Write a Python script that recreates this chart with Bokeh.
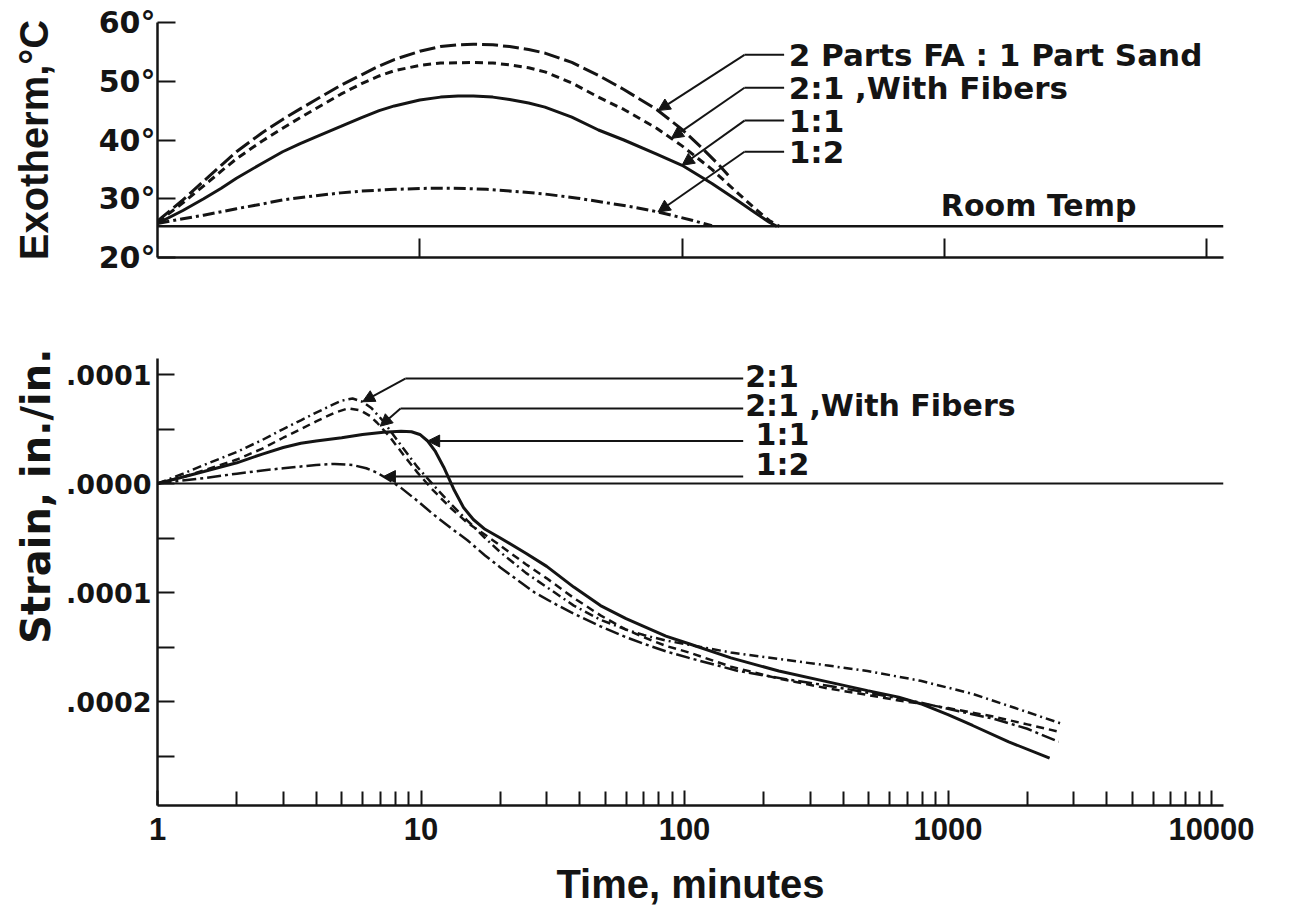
import numpy as np
from bokeh.plotting import figure
from bokeh.layouts import column
from bokeh.models import FixedTicker, Label, Arrow, NormalHead, Range1d, Span, Title
from bokeh.embed import file_html
from bokeh.resources import INLINE

# ---------------- Exotherm (deg C) versus time (minutes) ----------------
t_sand21 = [1, 1.25, 1.5, 1.75, 2, 2.5, 3, 3.5, 4, 5, 6, 7, 8, 10, 12, 14, 16, 19, 22, 26, 30, 38, 48,
            60, 80, 100, 120, 140, 150]
T_sand21 = [26.2, 29.8, 33.0, 35.7, 38.0, 41.2, 43.5, 45.3, 46.8, 49.3, 51.1, 52.6, 53.7, 55.1, 55.9,
            56.2, 56.3, 56.2, 55.9, 55.4, 54.8, 53.2, 51.0, 48.6, 45.2, 41.8, 38.5, 35.5, 34.0]

t_fiber21 = [1, 1.25, 1.5, 1.75, 2, 2.5, 3, 3.5, 4, 5, 6, 7, 8, 10, 12, 16, 19, 22, 26, 30, 38, 48, 60,
             80, 100, 130, 160, 190, 215, 235]
T_fiber21 = [26.0, 29.3, 32.2, 34.7, 36.8, 39.8, 42.0, 43.8, 45.3, 47.8, 49.6, 50.9, 51.8, 52.7, 53.1,
             53.2, 53.1, 52.8, 52.3, 51.6, 49.7, 47.3, 45.2, 42.0, 39.0, 35.0, 31.3, 28.3, 26.3, 25.3]

t_mix11 = [1, 1.25, 1.5, 1.75, 2, 2.5, 3, 3.5, 4, 5, 6, 7, 8, 10, 12, 14, 16, 19, 22, 26, 30, 38, 48, 60,
           80, 100, 130, 160, 190, 215, 230]
T_mix11 = [25.8, 28.0, 30.0, 31.8, 33.5, 36.0, 38.0, 39.4, 40.5, 42.3, 43.8, 45.0, 45.8, 46.8, 47.3,
           47.5, 47.5, 47.3, 46.9, 46.3, 45.6, 43.9, 41.7, 40.0, 37.6, 35.7, 32.6, 29.9, 27.6, 26.0, 25.3]

t_mix12 = [1, 1.25, 1.5, 2, 2.5, 3, 4, 5, 6, 8, 10, 12, 15, 18, 24, 30, 40, 50, 65, 80, 95, 110, 130]
T_mix12 = [25.8, 26.6, 27.2, 28.3, 29.1, 29.8, 30.5, 31.0, 31.3, 31.6, 31.75, 31.8, 31.75, 31.6, 31.2,
           30.8, 30.1, 29.4, 28.6, 27.8, 27.0, 26.3, 25.4]

ROOM_TEMP = 25.3

exo_ticks = [20, 30, 40, 50, 60]
exo_tick_labels = ["20°", "30°", "40°", "50°", "60°"]

# ---------------- Strain versus time, in units of 1e-4 in./in. ----------------
STRAIN_UNIT = 1e-4

t_s21 = [1, 1.25, 1.5, 2, 2.5, 3, 3.5, 4, 4.5, 5, 5.5, 6, 6.5, 7.2, 8.4, 9.7, 11.1, 13, 15, 17.5, 20, 25,
         30, 38, 48, 60, 70, 85, 104, 150, 228, 350, 495, 787, 1240, 1800, 2670]
s_21 = [0.0, 0.09, 0.17, 0.29, 0.40, 0.50, 0.58, 0.65, 0.71, 0.76, 0.78, 0.75, 0.69, 0.57, 0.35, 0.15,
        -0.01, -0.19, -0.34, -0.50, -0.63, -0.82, -0.95, -1.12, -1.25, -1.34, -1.39, -1.44, -1.48, -1.55,
        -1.61, -1.67, -1.72, -1.81, -1.93, -2.06, -2.20]

t_sfib = [1, 1.25, 1.5, 2, 2.5, 3, 3.5, 4, 4.7, 5.3, 5.9, 6.4, 6.8, 7.6, 8.6, 9.7, 11, 12.9, 15, 17.5, 20,
          25, 30, 38, 48, 60, 70, 85, 104, 150, 228, 350, 495, 650, 787, 1000, 1500, 2000, 2670]
s_fib = [0.0, 0.06, 0.12, 0.22, 0.32, 0.42, 0.50, 0.57, 0.65, 0.69, 0.67, 0.62, 0.56, 0.43, 0.26, 0.10,
         -0.05, -0.22, -0.36, -0.47, -0.57, -0.74, -0.87, -1.05, -1.21, -1.34, -1.41, -1.49, -1.55, -1.68,
         -1.79, -1.88, -1.94, -1.99, -2.02, -2.06, -2.14, -2.21, -2.28]

t_s11 = [1, 1.25, 1.5, 2, 2.5, 3, 3.5, 4, 5, 6, 7.2, 8.4, 9.2, 9.9, 10.6, 11.3, 12.2, 13.3, 14.5, 15.8,
         17.5, 20, 25, 30, 38, 48, 60, 70, 85, 104, 150, 228, 350, 495, 650, 787, 1000, 1240, 1700, 2430]
s_11 = [0.0, 0.06, 0.11, 0.19, 0.27, 0.33, 0.37, 0.39, 0.42, 0.45, 0.47, 0.48, 0.475, 0.45, 0.39, 0.30,
        0.15, -0.05, -0.22, -0.33, -0.42, -0.50, -0.64, -0.76, -0.95, -1.12, -1.24, -1.31, -1.40, -1.47,
        -1.60, -1.72, -1.82, -1.90, -1.96, -2.02, -2.12, -2.22, -2.37, -2.52]

t_s12 = [1, 1.5, 2, 2.5, 3, 4, 4.7, 5.5, 6.2, 6.8, 7.6, 8.4, 9.7, 11.1, 13, 15, 17.5, 20, 24, 27, 32, 37,
         48, 60, 70, 85, 104, 160, 250, 360, 500, 787, 1100, 1500, 2000, 2630]
s_12 = [0.0, 0.05, 0.09, 0.12, 0.14, 0.17, 0.18, 0.17, 0.14, 0.10, 0.03, -0.04, -0.16, -0.28, -0.41, -0.52,
        -0.66, -0.77, -0.91, -1.0, -1.1, -1.18, -1.31, -1.41, -1.47, -1.54, -1.60, -1.72, -1.80, -1.86,
        -1.92, -2.01, -2.09, -2.16, -2.25, -2.37]

strain_ticks = [0.0001, 0.0, -0.0001, -0.0002]
strain_tick_labels = [".0001", ".0000", ".0001", ".0002"]
strain_minor = [0.00005, -0.00005, -0.00015, -0.00025]

time_ticks = [1, 10, 100, 1000, 10000]
time_tick_labels = ["1", "10", "100", "1000", "10000"]

INK = "#141414"
TEXT_FONT = "DejaVu Sans"


def on_curve(ts, vs, t):
    """Value of a curve at time t, interpolated along log time."""
    return float(np.interp(np.log10(t), np.log10(ts), vs))


def bare(p):
    p.outline_line_color = None
    p.xgrid.visible = False
    p.ygrid.visible = False
    p.background_fill_color = "white"
    p.border_fill_color = "white"


def label(p, x, y, text, size, font=TEXT_FONT):
    p.add_layout(Label(x=x, y=y, text=text, text_align="left",
                       text_baseline="middle", text_font=font, text_font_style="bold",
                       text_font_size=size, text_color=INK))


def leader(p, pts):
    """Polyline leader: plain segments, arrow head on the last one."""
    for i in range(len(pts) - 1):
        last = i == len(pts) - 2
        p.add_layout(Arrow(x_start=pts[i][0], y_start=pts[i][1], x_end=pts[i + 1][0], y_end=pts[i + 1][1],
                           line_color=INK, line_width=2,
                           end=NormalHead(size=12, fill_color=INK, line_color=INK, line_width=1)
                           if last else None))


def style_axis(ax, font, size, standoff):
    ax.major_label_text_font = font
    ax.major_label_text_font_style = "bold"
    ax.major_label_text_font_size = size
    ax.major_label_text_color = INK
    ax.major_label_standoff = standoff
    ax.major_tick_out = 0
    ax.minor_tick_out = 0
    ax.axis_line_width = 2.5
    ax.major_tick_line_width = 2
    ax.minor_tick_line_width = 2
    ax.axis_line_color = INK
    ax.major_tick_line_color = INK
    ax.minor_tick_line_color = INK


# ======================= upper panel: exotherm =======================
top = figure(width=1297, height=300, x_axis_type="log",
             x_range=Range1d(1, 11600), y_range=Range1d(20, 60),
             min_border_left=157, min_border_right=69, min_border_top=22, min_border_bottom=43,
             output_backend="svg", toolbar_location=None)
bare(top)

top.add_layout(Span(location=ROOM_TEMP, dimension="width", line_color=INK, line_width=2.5))
top.line(t_sand21, T_sand21, line_color=INK, line_width=3, line_dash="16 5")
top.line(t_fiber21, T_fiber21, line_color=INK, line_width=3, line_dash="8 5")
top.line(t_mix11, T_mix11, line_color=INK, line_width=3)
top.line(t_mix12, T_mix12, line_color=INK, line_width=3, line_dash="12 4 3 4")

xa = top.xaxis[0]
style_axis(xa, "Liberation Sans", "10px", 4)
xa.ticker = FixedTicker(ticks=time_ticks[1:], minor_ticks=[])
xa.major_label_text_color = None
xa.major_tick_in = 19
xa.minor_tick_line_color = None

ya = top.yaxis[0]
style_axis(ya, TEXT_FONT, "30px", 2)
ya.ticker = FixedTicker(ticks=exo_ticks, minor_ticks=[])
ya.major_label_overrides = dict(zip(exo_ticks, exo_tick_labels))
ya.major_tick_in = 18
ya.minor_tick_line_color = None
ya.axis_label = "Exotherm,°C"
ya.axis_label_text_font = "Liberation Sans"
ya.axis_label_text_font_style = "bold"
ya.axis_label_text_font_size = "40px"
ya.axis_label_text_color = INK
ya.axis_label_standoff = 40

# curve call-outs
top_text_t = 255
top_knee_t = 173
top_join_t = 245
top_series = [(t_sand21, T_sand21, 81, 54.5, "2 Parts FA : 1 Part Sand"),
              (t_fiber21, T_fiber21, 91, 48.9, "2:1 ,With Fibers"),
              (t_mix11, T_mix11, 100, 43.3, "1:1"),
              (t_mix12, T_mix12, 81, 38.0, "1:2")]
for ts, vs, t_tip, y_txt, txt in top_series:
    leader(top, [(top_join_t, y_txt), (top_knee_t, y_txt), (t_tip, on_curve(ts, vs, t_tip))])
    label(top, top_text_t, y_txt, txt, "31px")

label(top, 970, 28.85, "Room Temp", "30px")

# ======================= lower panel: strain =======================
bot = figure(width=1297, height=610, x_axis_type="log",
             x_range=Range1d(1, 11105), y_range=Range1d(-2.954 * STRAIN_UNIT, 1.147 * STRAIN_UNIT),
             min_border_left=157, min_border_right=74, min_border_top=58, min_border_bottom=105,
             output_backend="svg", toolbar_location=None)
bare(bot)

bot.add_layout(Span(location=0, dimension="width", line_color=INK, line_width=2))


def strain(vals):
    return [v * STRAIN_UNIT for v in vals]


bot.line(t_s21, strain(s_21), line_color=INK, line_width=2.5, line_dash="9 4 2 4")
bot.line(t_sfib, strain(s_fib), line_color=INK, line_width=2.5, line_dash="8 5")
bot.line(t_s11, strain(s_11), line_color=INK, line_width=3)
bot.line(t_s12, strain(s_12), line_color=INK, line_width=2.5, line_dash="14 4 3 4")

bx = bot.xaxis[0]
style_axis(bx, "Liberation Sans", "31px", 12)
bx.ticker = FixedTicker(ticks=time_ticks,
                        minor_ticks=[m * 10 ** d for d in range(4) for m in range(2, 10)])
bx.major_label_overrides = dict(zip(time_ticks, time_tick_labels))
bx.major_tick_in = 15
bx.minor_tick_in = 14
bx.axis_label = "Time, minutes"
bx.axis_label_text_font = "Liberation Sans"
bx.axis_label_text_font_style = "bold"
bx.axis_label_text_font_size = "40px"
bx.axis_label_text_color = INK
bx.axis_label_standoff = 19

by = bot.yaxis[0]
style_axis(by, TEXT_FONT, "27px", 6)
by.ticker = FixedTicker(ticks=strain_ticks, minor_ticks=strain_minor)
by.major_label_overrides = dict(zip(strain_ticks, strain_tick_labels))
by.major_tick_in = 17
by.minor_tick_in = 17

bot.add_layout(Title(text="Strain, in./in.", align="right", offset=-10, text_font=TEXT_FONT,
                     text_font_style="bold", text_font_size="40px", text_color=INK), "left")

# curve call-outs
bot_join_t = 167
tip21 = on_curve(t_s21, s_21, 6.0)
leader(bot, [(bot_join_t, 0.963 * STRAIN_UNIT), (8.72, 0.963 * STRAIN_UNIT), (6.0, tip21 * STRAIN_UNIT)])
label(bot, 170, 0.98 * STRAIN_UNIT, "2:1", "30px")

tipfib = on_curve(t_sfib, s_fib, 7.0)
leader(bot, [(bot_join_t, 0.688 * STRAIN_UNIT), (8.36, 0.688 * STRAIN_UNIT), (7.0, tipfib * STRAIN_UNIT)])
label(bot, 170, 0.716 * STRAIN_UNIT, "2:1 ,With Fibers", "30px")

tip11 = on_curve(t_s11, s_11, 10.6)
leader(bot, [(bot_join_t, tip11 * STRAIN_UNIT), (10.6, tip11 * STRAIN_UNIT)])
label(bot, 186, 0.45 * STRAIN_UNIT, "1:1", "30px")

tip12 = on_curve(t_s12, s_12, 7.2)
leader(bot, [(bot_join_t, tip12 * STRAIN_UNIT), (7.2, tip12 * STRAIN_UNIT)])
label(bot, 186, 0.174 * STRAIN_UNIT, "1:2", "30px")

layout = column(top, bot, spacing=0)
open("out.html", "w").write(file_html(layout, INLINE))
